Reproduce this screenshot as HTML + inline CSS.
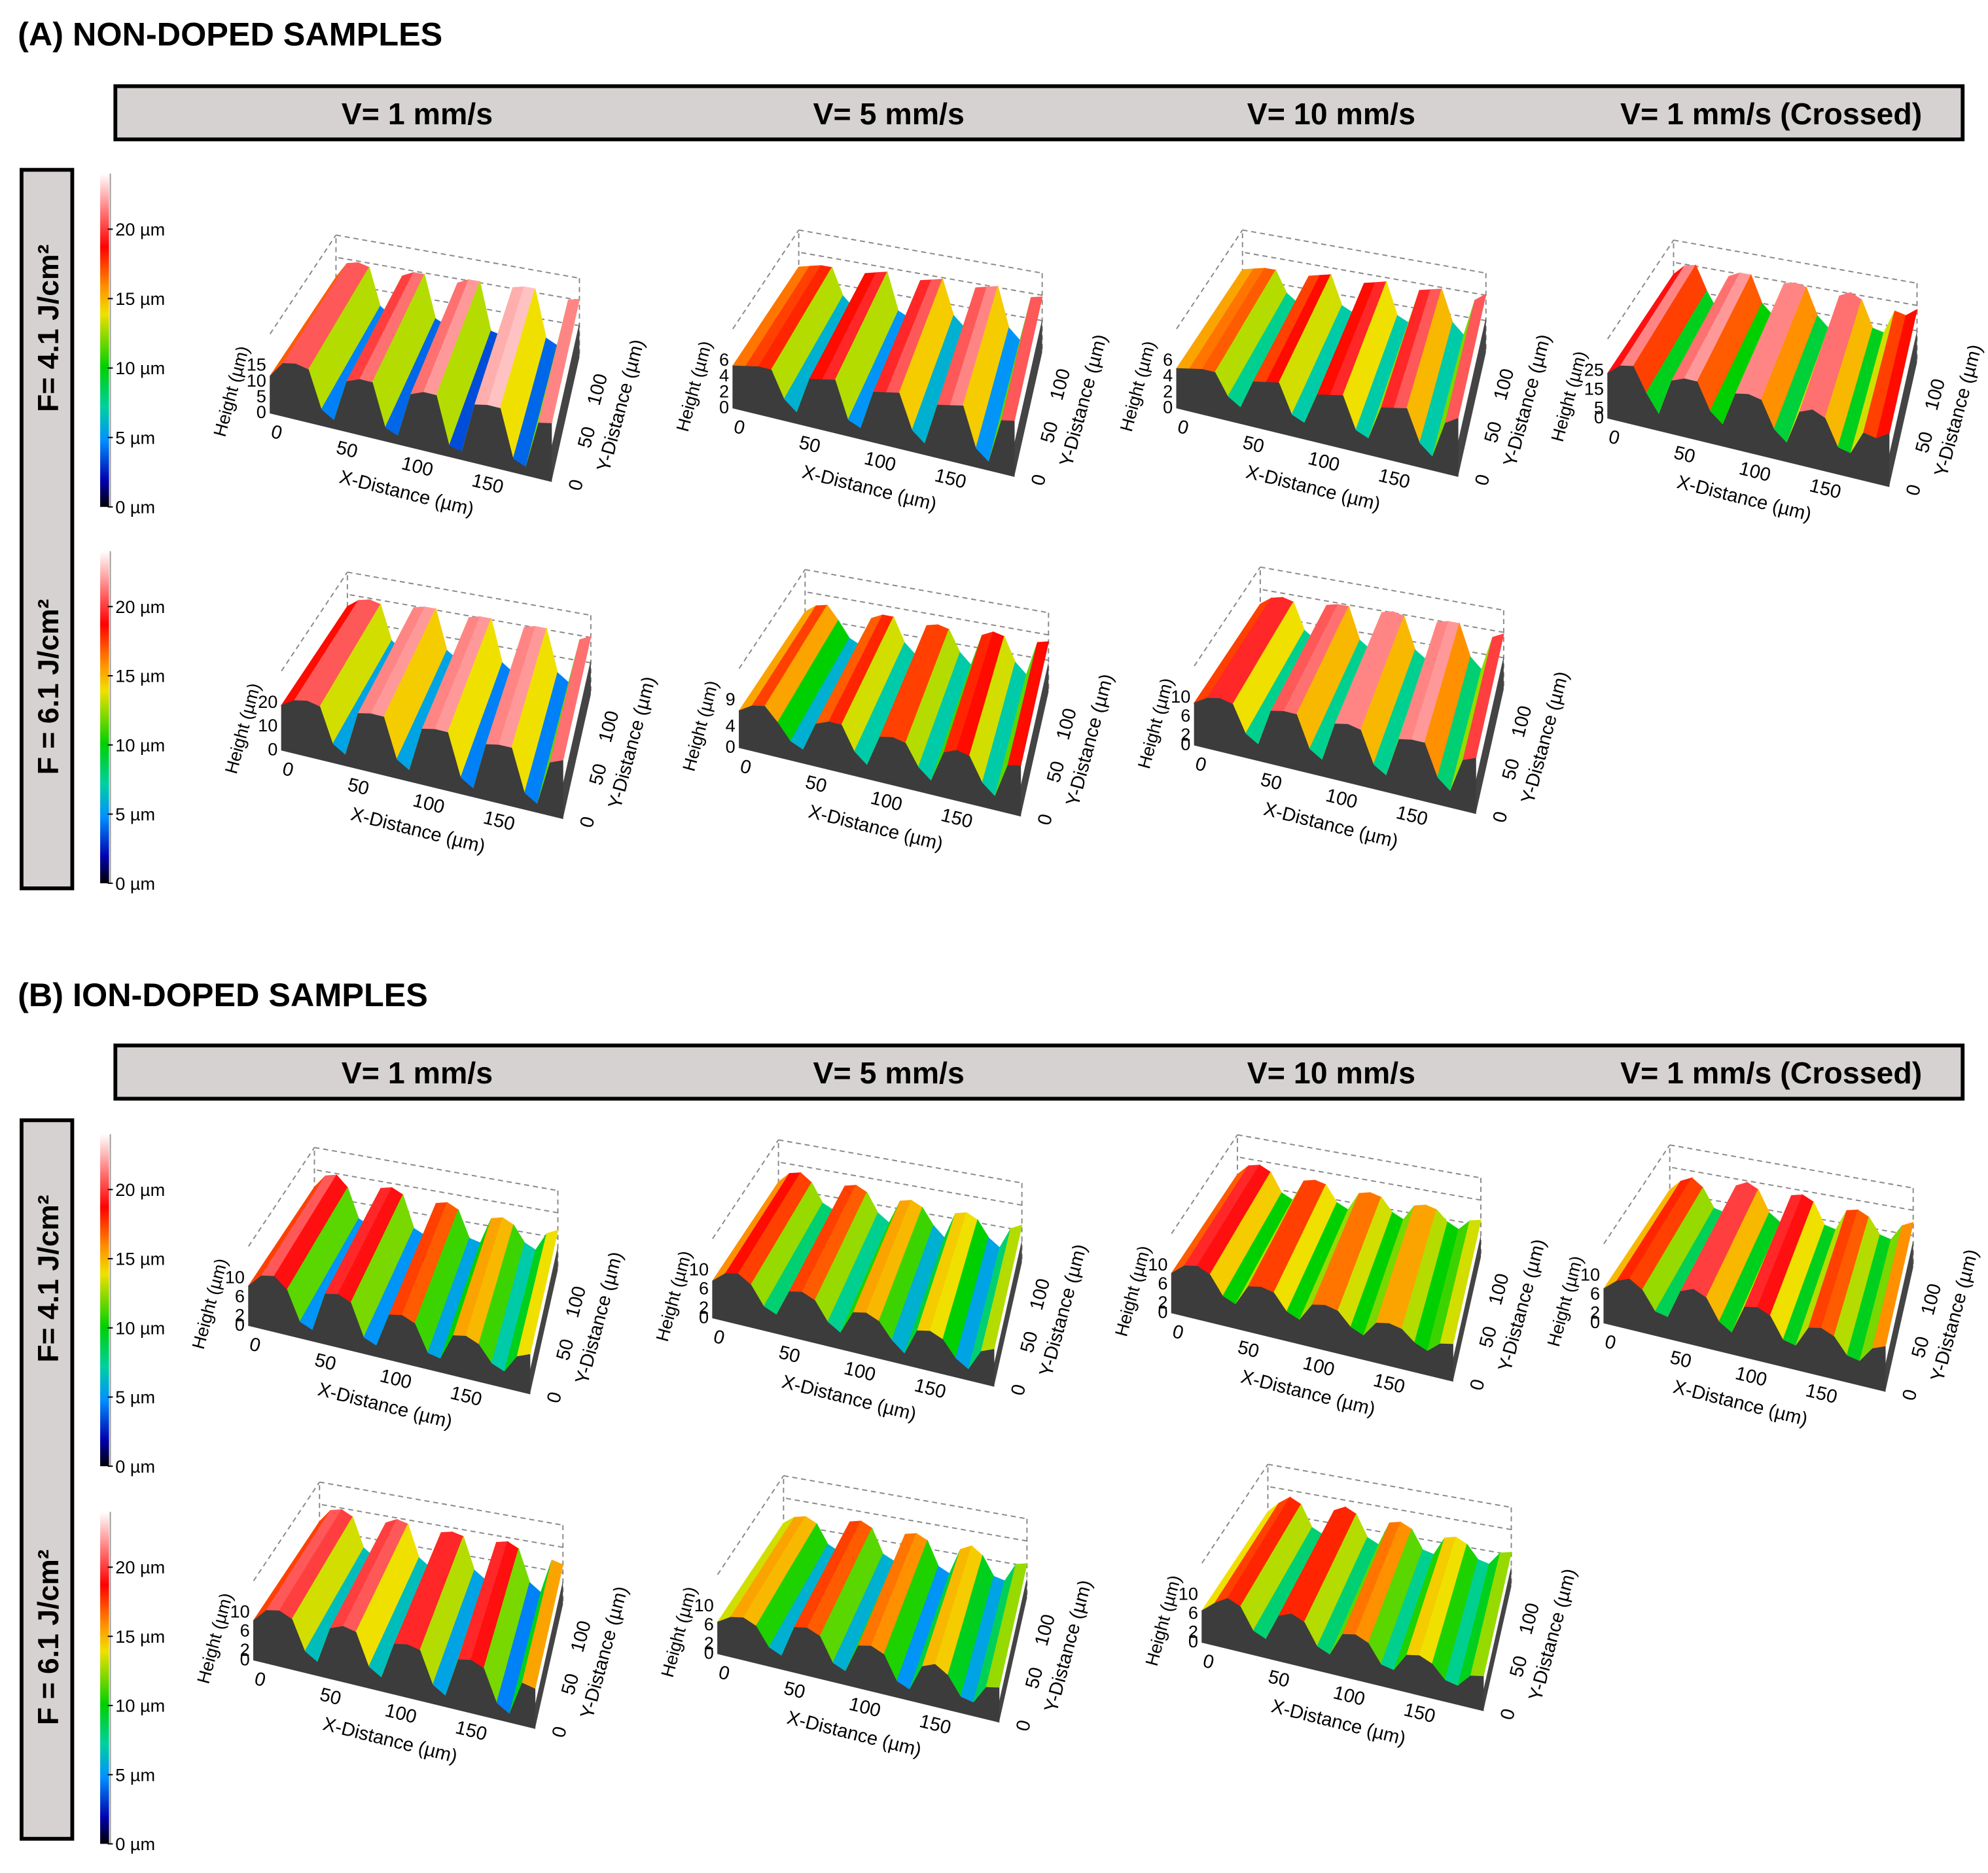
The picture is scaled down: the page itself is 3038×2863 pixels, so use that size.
<!DOCTYPE html>
<html><head><meta charset="utf-8">
<style>
html,body{margin:0;padding:0;background:#fff;}
svg{display:block;}
text{font-family:"Liberation Sans",sans-serif;}
</style></head>
<body>
<svg id="fig" width="3038" height="2863" viewBox="0 0 1568 1478" preserveAspectRatio="none" xmlns="http://www.w3.org/2000/svg">
<defs>
<linearGradient id="cbar" x1="0" y1="1" x2="0" y2="0">
<stop offset="0" stop-color="#000000"/>
<stop offset="0.08" stop-color="#0000b0"/>
<stop offset="0.2" stop-color="#0090ff"/>
<stop offset="0.3" stop-color="#00d0a0"/>
<stop offset="0.42" stop-color="#00d000"/>
<stop offset="0.58" stop-color="#f0e000"/>
<stop offset="0.66" stop-color="#ff9000"/>
<stop offset="0.78" stop-color="#ff0000"/>
<stop offset="0.88" stop-color="#ff7070"/>
<stop offset="1" stop-color="#ffffff"/>
</linearGradient>
</defs>
<text x="14" y="36" font-size="26" font-weight="bold">(A) NON-DOPED SAMPLES</text>
<text x="14" y="794" font-size="26" font-weight="bold">(B) ION-DOPED SAMPLES</text>
<g id="plots"></g>
</svg>
<script>
const NS="http://www.w3.org/2000/svg";
const root=document.getElementById('plots');

const speedLabels=["V= 1 mm/s","V= 5 mm/s","V= 10 mm/s","V= 1 mm/s (Crossed)"];
const speedX=[329,701,1050,1397];
const fluenceLabels=["F= 4.1 J/cm²","F = 6.1 J/cm²"];
const cbTicks=[0,5,10,15,20];
const cbMax=24;
const xTicks=[0,50,100,150];
const yTicks=[0,50,100];

// height profiles along X (µm) per sample
const profA1=[14,20,21,20,6,3,19,21,21,5,3,20,22,22,4,3,22,23,23,5,3,21,22];
const profA2=[16,17,18,18,8,4,18,19,20,6,4,19,20,21,8,4,20,21,22,7,3,20,21];
const profA3=[15,16,17,17,9,6,17,18,19,8,6,18,19,20,8,6,19,20,21,9,5,19,22];
const profA4=[17,21,22,13,6,20,22,22,12,8,21,22,21,11,7,20,22,20,10,9,18,17,20];
const profA5=[17,20,21,20,7,4,21,22,22,7,4,21,22,22,6,3,21,22,22,6,3,20,22];
const profA6=[14,17,18,13,7,5,16,18,18,9,5,17,18,17,9,5,17,19,18,9,5,18,19];
const profA7=[16,19,20,19,9,6,20,21,21,9,6,21,22,21,9,6,21,22,22,10,6,19,21];
const profB1=[15,20,21,17,6,4,19,20,18,6,4,17,18,16,6,5,15,16,14,8,6,13,15];
const profB2=[14,18,19,16,9,7,17,18,16,9,6,15,16,14,8,4,14,15,13,7,4,12,14];
const profB3=[15,19,20,18,11,9,17,18,17,11,9,16,17,16,11,9,15,16,15,11,9,13,14];
const profB4=[13,17,19,16,9,8,19,21,19,11,8,19,20,18,10,9,17,18,16,10,9,15,17];
const profB5=[15,20,21,19,8,5,19,21,20,8,5,19,20,19,7,4,19,20,18,6,3,16,15];
const profB6=[12,15,16,14,7,5,17,18,16,7,5,16,17,15,6,4,14,16,13,6,5,12,13];
const profB7=[12,16,19,17,9,7,17,19,17,9,7,16,17,15,8,7,14,15,13,8,7,12,13];

const zTicksA1=[0,5,10,15];
const zTicksA2=[0,2,4,6];
const zTicksA3=[0,2,4,6];
const zTicksA4=[0,5,15,25];
const zTicksA5=[0,10,20];
const zTicksA6=[0,4,9];
const zTicksA7=[0,2,6,10];
const zTicksB=[0,2,6,10];

const plots=[
 {name:'a-f41-v1',ox:213,oy:326,prof:profA1,zt:zTicksA1},
 {name:'a-f41-v5',ox:578,oy:322,prof:profA2,zt:zTicksA2},
 {name:'a-f41-v10',ox:928,oy:322,prof:profA3,zt:zTicksA3},
 {name:'a-f41-crossed',ox:1268,oy:330,prof:profA4,zt:zTicksA4},
 {name:'a-f61-v1',ox:222,oy:592,prof:profA5,zt:zTicksA5},
 {name:'a-f61-v5',ox:583,oy:590,prof:profA6,zt:zTicksA6},
 {name:'a-f61-v10',ox:942,oy:588,prof:profA7,zt:zTicksA7},
 {name:'b-f41-v1',ox:196,oy:1046,prof:profB1,zt:zTicksB},
 {name:'b-f41-v5',ox:562,oy:1040,prof:profB2,zt:zTicksB},
 {name:'b-f41-v10',ox:924,oy:1036,prof:profB3,zt:zTicksB},
 {name:'b-f41-crossed',ox:1265,oy:1044,prof:profB4,zt:zTicksB},
 {name:'b-f61-v1',ox:200,oy:1310,prof:profB5,zt:zTicksB},
 {name:'b-f61-v5',ox:566,oy:1305,prof:profB6,zt:zTicksB},
 {name:'b-f61-v10',ox:948,oy:1296,prof:profB7,zt:zTicksB},
];

function el(tag,attrs,parent){const e=document.createElementNS(NS,tag);for(const k in attrs)e.setAttribute(k,attrs[k]);(parent||root).appendChild(e);return e;}

const cbY=[[137,400],[435,697],[895,1157],[1193,1455]];
const sections=[{hy:68,by:134},{hy:825,by:884}];

sections.forEach((s)=>{
  const r=el('rect',{x:91,y:s.hy,width:1457,height:42,fill:'#d6d2d2',stroke:'#000','stroke-width':3});
  
  
  speedLabels.forEach((t,i)=>{
    const tx=el('text',{x:speedX[i],y:s.hy+30,'font-size':24,'font-weight':'bold','text-anchor':'middle'});
    tx.textContent=t;
    
    
  });
  const lb=el('rect',{x:17,y:s.by,width:40,height:567,fill:'#d6d2d2',stroke:'#000','stroke-width':3});
  
  
  [0,1].forEach(k=>{
    const cy=s.by+125+k*283;
    const tx=el('text',{x:46,y:cy,'font-size':23,'font-weight':'bold','text-anchor':'middle',transform:`rotate(-90 46 ${cy})`});
    tx.textContent=fluenceLabels[k];
    
    
  });
});

cbY.forEach(([y0,y1])=>{
  const r=el('rect',{x:79,y:y0,width:7,height:y1-y0,fill:'url(#cbar)'});
  
  
  el('line',{x1:87,y1:y0,x2:87,y2:y1,stroke:'#999','stroke-width':1});
  cbTicks.forEach(v=>{
    const y=y1-(v/cbMax)*(y1-y0);
    el('line',{x1:85,y1:y,x2:89,y2:y,stroke:'#000','stroke-width':1});
    const t=el('text',{x:91,y:y+5,'font-size':14});
    t.textContent=v+' µm';
    
    
  });
});

const stops=[[0,[0,0,0]],[2,[0,0,176]],[4.8,[0,144,255]],[7.2,[0,208,160]],[10,[0,208,0]],[14,[240,224,0]],[16,[255,144,0]],[18.7,[255,0,0]],[21,[255,112,112]],[24,[255,235,235]]];
function cmap(v){
  v=Math.max(0,Math.min(24,v));
  for(let i=1;i<stops.length;i++){if(v<=stops[i][0]){const [a,ca]=stops[i-1],[b,cb]=stops[i];const t=(v-a)/(b-a);return 'rgb('+ca.map((c,j)=>Math.round(c+(cb[j]-c)*t)).join(',')+')';}}
  return 'rgb(255,235,235)';
}

const A=[222,54],BL=[52,-78],BR=[22,-98],H=50;
plots.forEach(p=>{
  const ox=p.ox,oy=p.oy;
  const g=el('g',{});
  
  
  const P=(x,y,z)=>{const bx=BL[0]*(1-x)+BR[0]*x,by=BL[1]*(1-x)+BR[1]*x;return [ox+x*A[0]+y*bx,oy+x*A[1]+y*by-z*H];};
  const pt=a=>a[0].toFixed(1)+','+a[1].toFixed(1);
  const d='4,3';
  [[P(0,1,0),P(0,1,1.25)],[P(0,1,1.25),P(1,1,1.25)],[P(1,1,1.25),P(1,1,0)],[P(0,0,1.25),P(0,1,1.25)],[P(1,1,0.9),P(0,1,0.9)],[P(1,1,0.5),P(0,1,0.5)]].forEach(([a,b])=>{
    el('line',{x1:a[0],y1:a[1],x2:b[0],y2:b[1],stroke:'#888','stroke-width':1,'stroke-dasharray':d},g);
  });
  const n=p.prof.length;
  const z=v=>v/cbMax;
  for(let i=0;i<n-1;i++){
    const x0=i/(n-1),x1=(i+1)/(n-1),v0=p.prof[i],v1=p.prof[i+1];
    for(let s=0;s<4;s++){
      const y0=s/4,y1=(s+1)/4;
      const q=el('polygon',{points:[P(x0,y0,z(v0)),P(x1,y0,z(v1)),P(x1,y1,z(v1)),P(x0,y1,z(v0))].map(pt).join(' '),fill:cmap((v0+v1)/2),stroke:cmap((v0+v1)/2),'stroke-width':0.6},g);
      
      
    }
  }
  const rf=[P(1,0,0),P(1,1,0),P(1,1,z(p.prof[n-1])*0.6),P(1,0,z(p.prof[n-1])*0.6)];
  el('polygon',{points:rf.map(pt).join(' '),fill:'#444'},g);
  const ff=[P(0,0,0)];
  for(let i=0;i<n;i++)ff.push(P(i/(n-1),0,z(p.prof[i])));
  ff.push(P(1,0,0));
  const f=el('polygon',{points:ff.map(pt).join(' '),fill:'#3c3c3c',stroke:'#3c3c3c','stroke-width':0.5},g);
  
  
  xTicks.forEach(v=>{
    const q=P(v/200,0,0);
    const t=el('text',{x:q[0]+4,y:q[1]+20,'font-size':15,'text-anchor':'middle',transform:`rotate(14 ${q[0]+4} ${q[1]+20})`},g);
    t.textContent=v;
    
    
  });
  const xm=P(0.48,0,0);
  const xl=el('text',{x:xm[0],y:xm[1]+42,'font-size':15,'text-anchor':'middle',transform:`rotate(14 ${xm[0]} ${xm[1]+42})`},g);
  xl.textContent='X-Distance (µm)';
  
  
  yTicks.forEach(v=>{
    const q=P(1,v/130,0);
    const t=el('text',{x:q[0]+24,y:q[1]+4,'font-size':15,'text-anchor':'middle',transform:`rotate(-75 ${q[0]+24} ${q[1]+4})`},g);
    t.textContent=v;
    
    
  });
  const ym=P(1,0.6,0);
  const yl=el('text',{x:ym[0]+46,y:ym[1],'font-size':15,'text-anchor':'middle',transform:`rotate(-75 ${ym[0]+46} ${ym[1]})`},g);
  yl.textContent='Y-Distance (µm)';
  
  
  const zmax=p.zt[p.zt.length-1];
  p.zt.forEach(v=>{
    const q=P(0,0,(v/zmax)*0.75);
    const t=el('text',{x:q[0]-3,y:q[1]+4,'font-size':14,'text-anchor':'end'},g);
    t.textContent=v;
    
    
  });
  const zm=P(0,0,0.4);
  const zl=el('text',{x:zm[0]-26,y:zm[1]+4,'font-size':14,'text-anchor':'middle',transform:`rotate(-75 ${zm[0]-26} ${zm[1]+4})`},g);
  zl.textContent='Height (µm)';
  
  
});
</script>
</body></html>
